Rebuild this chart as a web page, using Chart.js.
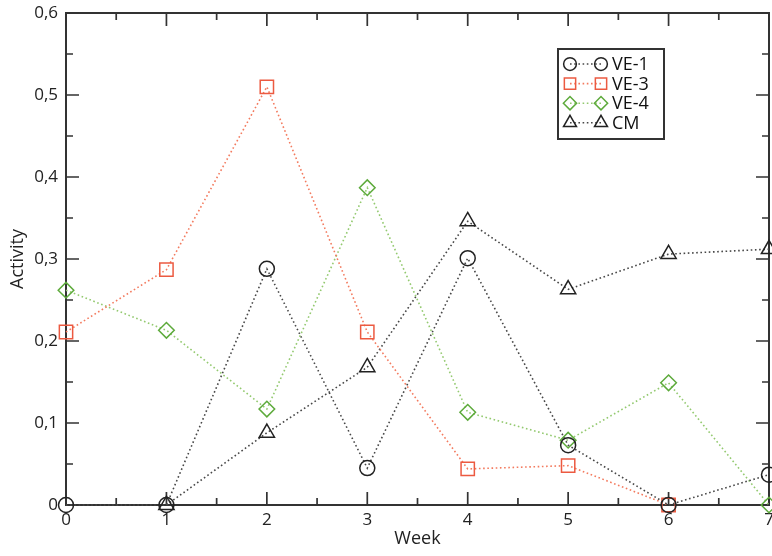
<!DOCTYPE html>
<html>
<head>
<meta charset="utf-8">
<script src="https://cdn.jsdelivr.net/npm/chart.js@4.4.1/dist/chart.umd.min.js"></script>
<style>
  html, body { margin: 0; padding: 0; background: #fff; }
  #wrap { width: 772px; height: 556px; }
</style>
</head>
<body>
<div id="wrap"><canvas id="chart" width="772" height="556"></canvas></div>
<script>
// values
const weeks = [0, 1, 2, 3, 4, 5, 6, 7];
const ve1 = [0, 0, 0.288, 0.045, 0.301, 0.073, 0, 0.037];
const ve3 = [0.211, 0.287, 0.51, 0.211, 0.044, 0.048, 0, null];
const ve4 = [0.262, 0.213, 0.117, 0.387, 0.113, 0.079, 0.149, 0];
const cm = [null, 0, 0.088, 0.168, 0.346, 0.263, 0.306, 0.312];
const seriesNames = ['VE-1', 'VE-3', 'VE-4', 'CM'];
const yTickLabels = ['0', '0,1', '0,2', '0,3', '0,4', '0,5', '0,6'];

const FONT = '"Open Sans", "Noto Sans", sans-serif';
const AXIS = '#333';

function points(values) {
  return weeks.map((w, i) => ({ x: w, y: values[i] })).filter(p => p.y !== null);
}

function series(label, values, lineColor, markColor, style, radius) {
  return {
    label: label,
    data: points(values),
    borderColor: lineColor,
    borderWidth: 1.6,
    borderDash: [1.6, 2.6],
    borderCapStyle: 'butt',
    pointStyle: style,
    pointRadius: radius,
    pointHoverRadius: radius,
    pointBorderColor: markColor,
    pointBackgroundColor: 'rgba(0,0,0,0)',
    pointBorderWidth: 1.5,
    tension: 0,
    clip: false
  };
}

// frame and inward ticks on all four sides
const framePlugin = {
  id: 'frame',
  beforeDatasetsDraw(chart) {
    const { ctx, chartArea: a, scales: { x, y } } = chart;
    ctx.save();
    ctx.strokeStyle = AXIS;
    ctx.lineWidth = 2;
    ctx.strokeRect(a.left, a.top, a.right - a.left, a.bottom - a.top);
    ctx.lineWidth = 1.7;
    ctx.beginPath();
    for (let i = 0; i <= 14; i++) {
      const px = x.getPixelForValue(i * 0.5);
      const len = i % 2 === 0 ? 13 : 7;
      ctx.moveTo(px, a.bottom); ctx.lineTo(px, a.bottom - len);
      ctx.moveTo(px, a.top); ctx.lineTo(px, a.top + len);
    }
    for (let i = 0; i <= 12; i++) {
      const py = y.getPixelForValue(i * 0.05);
      const len = i % 2 === 0 ? 13 : 7;
      ctx.moveTo(a.left, py); ctx.lineTo(a.left + len, py);
      ctx.moveTo(a.right, py); ctx.lineTo(a.right - len, py);
    }
    ctx.stroke();
    ctx.restore();
  }
};

// boxed legend: marker - dotted line - marker, then label
const legendPlugin = {
  id: 'boxLegend',
  afterDraw(chart) {
    const ctx = chart.ctx;
    const box = { left: 558, top: 49, right: 664, bottom: 139 };
    ctx.save();
    ctx.strokeStyle = AXIS;
    ctx.lineWidth = 2;
    ctx.strokeRect(box.left, box.top, box.right - box.left, box.bottom - box.top);
    chart.data.datasets.forEach((ds, i) => {
      const cy = 64 + i * 19.6;
      const x1 = 570, x2 = 601;
      ctx.save();
      ctx.strokeStyle = ds.borderColor;
      ctx.lineWidth = 1.6;
      ctx.setLineDash([1.6, 2.6]);
      ctx.beginPath();
      ctx.moveTo(x1, cy); ctx.lineTo(x2, cy);
      ctx.stroke();
      ctx.restore();
      const opts = {
        pointStyle: ds.pointStyle,
        radius: ds.pointRadius * 0.85,
        rotation: 0,
        borderWidth: 1.5
      };
      ctx.strokeStyle = ds.pointBorderColor;
      ctx.fillStyle = 'rgba(0,0,0,0)';
      ctx.lineWidth = 1.5;
      Chart.helpers.drawPoint(ctx, opts, x1, cy);
      Chart.helpers.drawPoint(ctx, opts, x2, cy);
      ctx.fillStyle = '#111';
      ctx.font = '18px ' + FONT;
      ctx.textAlign = 'left';
      ctx.textBaseline = 'middle';
      ctx.fillText(ds.label, 612, cy + 1);
    });
    ctx.restore();
  }
};

new Chart(document.getElementById('chart'), {
  type: 'line',
  data: {
    datasets: [
      series(seriesNames[0], ve1, '#474747', '#222222', 'circle', 7.5),
      series(seriesNames[1], ve3, '#f37a5e', '#ec5a41', 'rect', 9.4),
      series(seriesNames[2], ve4, '#93c96f', '#5daa3b', 'rectRot', 7.8),
      series(seriesNames[3], cm, '#474747', '#222222', 'triangle', 8.8)
    ]
  },
  options: {
    responsive: false,
    animation: false,
    devicePixelRatio: 1,
    layout: { autoPadding: false, padding: { top: 13, right: 3, left: 0, bottom: 0 } },
    plugins: {
      legend: { display: false },
      tooltip: { enabled: false }
    },
    scales: {
      x: {
        type: 'linear',
        min: 0,
        max: 7,
        grid: { display: false, drawTicks: false },
        border: { display: false },
        ticks: {
          stepSize: 1,
          padding: 5,
          color: '#222',
          font: { family: FONT, size: 17 },
          maxRotation: 0,
          callback: v => String(v)
        },
        title: {
          display: true,
          text: 'Week',
          color: '#222',
          font: { family: FONT, size: 18 },
          padding: { top: 0, bottom: 6 }
        },
        afterFit(scale) {
          scale.height = 51;
          scale.paddingLeft = 0;
          scale.paddingRight = 0;
        }
      },
      y: {
        min: 0,
        max: 0.6,
        grid: { display: false, drawTicks: false },
        border: { display: false },
        ticks: {
          stepSize: 0.1,
          padding: 8,
          color: '#222',
          font: { family: FONT, size: 17 },
          callback: v => yTickLabels[Math.round(v * 10)]
        },
        title: {
          display: true,
          text: 'Activity',
          color: '#222',
          font: { family: FONT, size: 18 },
          padding: { top: 7, bottom: 0 }
        },
        afterFit(scale) {
          scale.width = 66;
          scale.paddingTop = 0;
          scale.paddingBottom = 0;
        }
      }
    }
  },
  plugins: [framePlugin, legendPlugin]
});
</script>
</body>
</html>
